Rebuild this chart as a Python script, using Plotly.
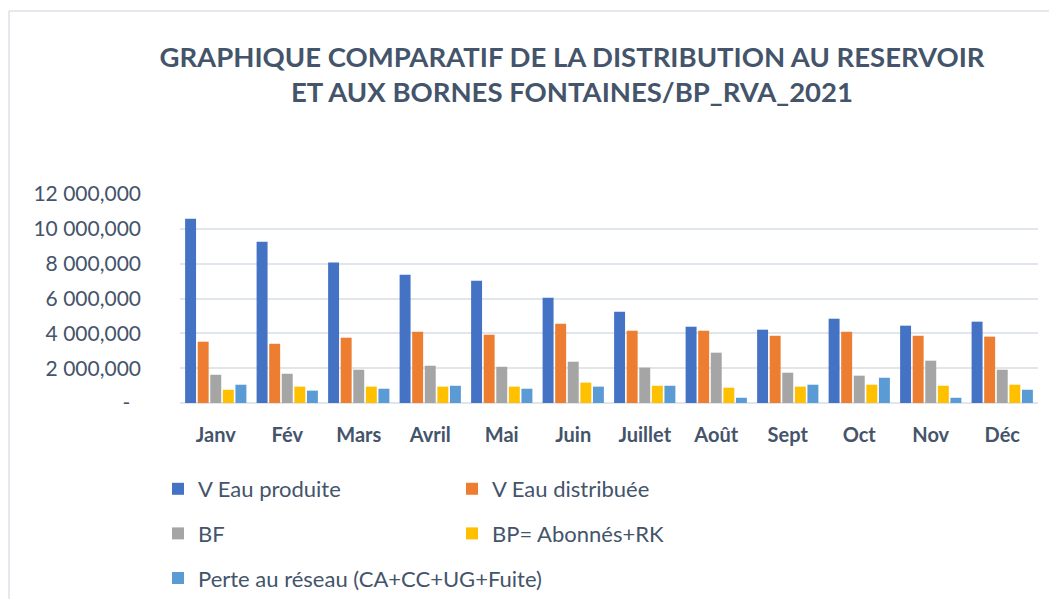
import plotly.graph_objects as go

months = ["Janv", "Fév", "Mars", "Avril", "Mai", "Juin", "Juillet", "Août", "Sept", "Oct", "Nov", "Déc"]

v_eau_produite = [10580000, 9260000, 8060000, 7370000, 7020000, 6050000, 5240000, 4380000, 4210000, 4840000, 4440000, 4670000]
v_eau_distribuee = [3520000, 3400000, 3750000, 4090000, 3920000, 4550000, 4150000, 4150000, 3860000, 4090000, 3860000, 3810000]
bf = [1620000, 1680000, 1910000, 2140000, 2080000, 2370000, 2030000, 2890000, 1740000, 1570000, 2430000, 1910000]
bp_abonnes_rk = [760000, 940000, 940000, 940000, 940000, 1170000, 990000, 880000, 940000, 1050000, 990000, 1050000]
perte_reseau = [1050000, 710000, 820000, 990000, 820000, 940000, 990000, 300000, 1050000, 1450000, 300000, 760000]

series_names = ["V Eau produite", "V Eau distribuée", "BF", "BP= Abonnés+RK", "Perte au réseau (CA+CC+UG+Fuite)"]
series_values = [v_eau_produite, v_eau_distribuee, bf, bp_abonnes_rk, perte_reseau]
series_colors = ["#4472C4", "#ED7D31", "#A5A5A5", "#FFC000", "#5B9BD5"]
series_legend = ["legend", "legend2", "legend", "legend2", "legend"]

y_tickvals = [0, 2000000, 4000000, 6000000, 8000000, 10000000, 12000000]
y_ticktext = ["-\u00a0\u00a0", "2 000,000", "4 000,000", "6 000,000", "8 000,000", "10 000,000", "12 000,000"]

# figure sized to fit inside the page's default 8px body margin
W, H = 1041, 591
L, R, T, B = 172, 11, 186, 196
PW, PH = W - L - R, H - T - B

TXT = "#44546A"
GRID = "#E1E5EC"
FRAME = "#DDE2E9"
FONT = "Lato"

fig = go.Figure()
for i, (name, vals, col, lg) in enumerate(zip(series_names, series_values, series_colors, series_legend)):
    fig.add_trace(go.Bar(
        x=months, y=vals, name=name, marker=dict(color=col, line=dict(width=0)),
        legend=lg, legendgroup=f"g{i}",
    ))

def px_x(px):
    return (px - L) / PW

def px_y(py):
    return (H - B - py) / PH

# chart-area frame (top and left edges visible)
fig.add_shape(type="line", xref="paper", yref="paper",
              x0=px_x(1), x1=px_x(W), y0=px_y(3), y1=px_y(3),
              line=dict(color=FRAME, width=1.5), layer="below")
fig.add_shape(type="line", xref="paper", yref="paper",
              x0=px_x(1), x1=px_x(1), y0=px_y(3), y1=px_y(H),
              line=dict(color=FRAME, width=1.5), layer="below")

legend_common = dict(
    orientation="v", xref="container", yref="container", xanchor="left", yanchor="top",
    font=dict(family=FONT, size=22, color=TXT), bgcolor="rgba(0,0,0,0)",
    tracegroupgap=13, itemclick=False,
)

fig.update_layout(
    width=W, height=H,
    margin=dict(l=L, r=R, t=T, b=B, autoexpand=False),
    paper_bgcolor="white", plot_bgcolor="white",
    font=dict(family=FONT, color=TXT),
    title=dict(
        text="GRAPHIQUE COMPARATIF DE LA DISTRIBUTION AU RESERVOIR<br>ET AUX BORNES FONTAINES/BP_RVA_2021",
        x=564 / W, xanchor="center", xref="container",
        y=1 - 58.5 / H, yanchor="middle", yref="container",
        font=dict(family=FONT, size=27.5, color=TXT, weight="bold"),
    ),
    barmode="group", bargap=0.12, bargroupgap=0.13,
    showlegend=True,
    legend=dict(x=150 / W, y=1 - 460 / H, **legend_common),
    legend2=dict(x=444 / W, y=1 - 460 / H, **legend_common),
    xaxis=dict(
        showgrid=False, showline=False, ticks="",
        tickfont=dict(family=FONT, size=20, color=TXT, weight="bold"),
        ticklabelstandoff=18, tickangle=0,
    ),
    yaxis=dict(
        range=[0, 12000000], tickmode="array", tickvals=y_tickvals, ticktext=y_ticktext,
        showgrid=True, gridcolor=GRID, gridwidth=1.5,
        zeroline=True, zerolinecolor=GRID, zerolinewidth=2,
        showline=False, ticks="",
        tickfont=dict(family=FONT, size=21, color=TXT),
        ticklabelstandoff=38,
    ),
)

fig.write_html("out.html")
